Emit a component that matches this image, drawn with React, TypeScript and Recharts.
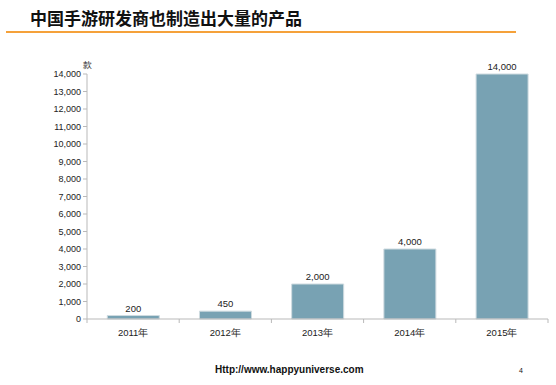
import { BarChart, Bar, XAxis, YAxis, LabelList } from "recharts";

const years = ["2011年", "2012年", "2013年", "2014年", "2015年"];
const games = [200, 450, 2000, 4000, 14000];
const yTicks = [0, 1000, 2000, 3000, 4000, 5000, 6000, 7000, 8000, 9000, 10000, 11000, 12000, 13000, 14000];

const data = years.map((year, i) => ({ year, games: games[i] }));

const CHART_W = 556;
const CHART_H = 385;
const X_AXIS_H = 30;
const MARGIN = { top: 74, right: 8, bottom: 66 - X_AXIS_H, left: 27 };
const Y_AXIS_W = 60;
const BAND = (CHART_W - MARGIN.left - MARGIN.right - Y_AXIS_W) / years.length;

const FONT = "'Liberation Sans', Arial, sans-serif";
const AXIS_GREY = "#b9b9b9";

// x labels under each bar, tick marks sit on the category boundaries
function YearTick(props: any) {
  const { x, y, payload, index } = props;
  const last = index === years.length - 1;
  return (
    <g>
      <line x1={x - BAND / 2} x2={x - BAND / 2} y1={y - 8} y2={y - 4} stroke={AXIS_GREY} />
      {last && <line x1={x + BAND / 2} x2={x + BAND / 2} y1={y - 8} y2={y - 4} stroke={AXIS_GREY} />}
      <text x={x} y={y + 9} textAnchor="middle" fontSize={9.5} fill="#222" fontFamily={FONT}>
        {payload.value}
      </text>
    </g>
  );
}

export default function App() {
  return (
    <div
      style={{
        position: "fixed",
        left: 0,
        top: 0,
        width: CHART_W,
        height: CHART_H,
        background: "#fff",
        fontFamily: FONT,
      }}
    >
      <div
        style={{
          position: "absolute",
          left: 30,
          top: 7,
          fontSize: 17,
          fontWeight: "bold",
          color: "#111",
          fontFamily: "'Noto Sans CJK SC', sans-serif",
          lineHeight: "22px",
        }}
      >
        中国手游研发商也制造出大量的产品
      </div>
      <div style={{ position: "absolute", left: 6, top: 31, width: 510, height: 2, background: "#f5a13a" }} />

      <BarChart width={CHART_W} height={CHART_H} data={data} margin={MARGIN} barCategoryGap="22%">
        <XAxis
          dataKey="year"
          height={X_AXIS_H}
          axisLine={{ stroke: AXIS_GREY }}
          tickLine={false}
          tick={<YearTick />}
          interval={0}
        />
        <YAxis
          width={Y_AXIS_W}
          domain={[0, 14000]}
          ticks={yTicks}
          interval={0}
          axisLine={{ stroke: AXIS_GREY }}
          tickLine={{ stroke: AXIS_GREY }}
          tickSize={4}
          tickFormatter={(v: number) => v.toLocaleString("en-US")}
          tick={{ fontSize: 9, fill: "#222", fontFamily: FONT }}
          label={{ value: "款", position: "top", offset: 6, dx: Y_AXIS_W / 2, fontSize: 9, fill: "#222" }}
        />
        <Bar dataKey="games" fill="#78a2b3" stroke="#cfdbe0" strokeWidth={1} isAnimationActive={false}>
          <LabelList
            dataKey="games"
            position="top"
            offset={4}
            formatter={(v: any) => Number(v).toLocaleString("en-US")}
            style={{ fontSize: 9.5, fill: "#222", fontFamily: FONT }}
          />
        </Bar>
      </BarChart>

      <div
        style={{
          position: "absolute",
          left: 215,
          top: 364,
          fontSize: 10,
          fontWeight: "bold",
          color: "#111",
        }}
      >
        Http://www.happyuniverse.com
      </div>
      <div style={{ position: "absolute", left: 519, top: 367, fontSize: 7, color: "#111" }}>4</div>
    </div>
  );
}
